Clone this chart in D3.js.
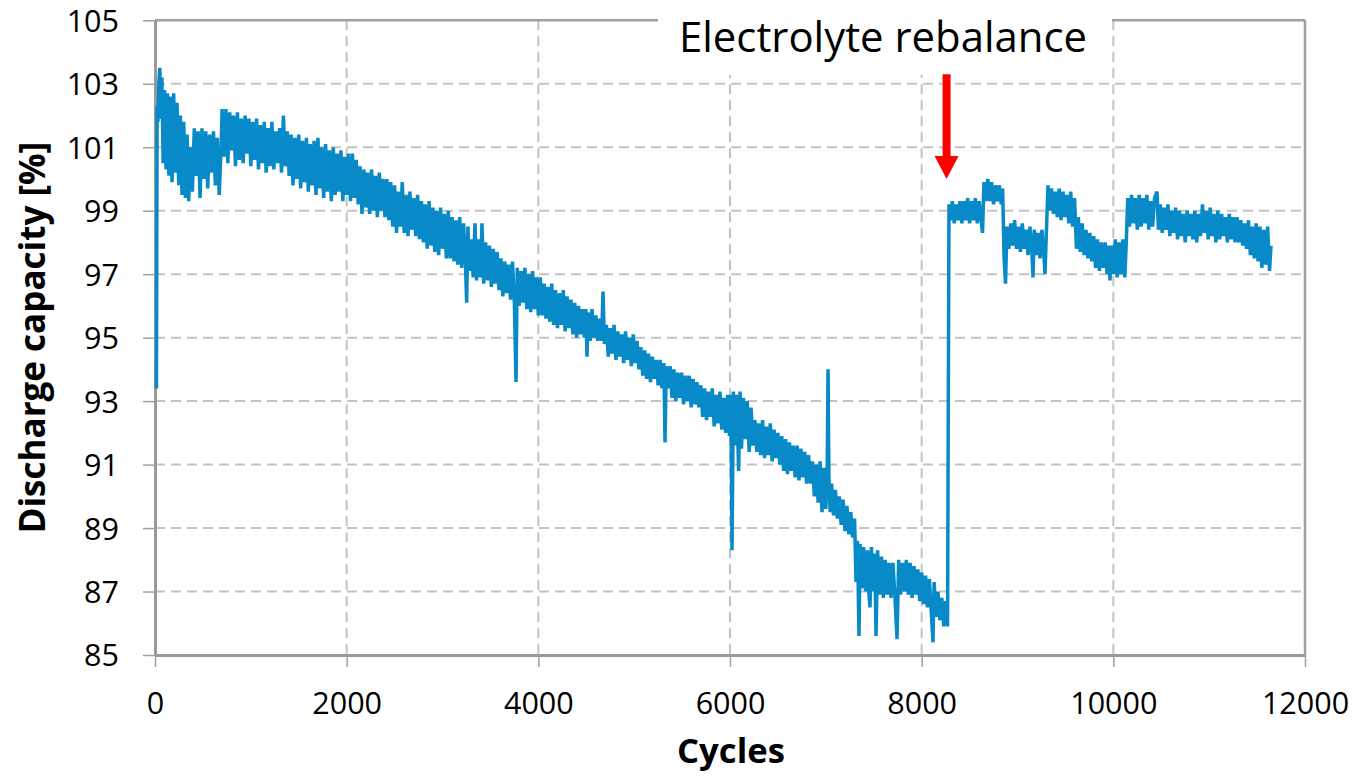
<!DOCTYPE html>
<html>
<head>
<meta charset="utf-8">
<script src="https://cdn.jsdelivr.net/npm/d3@7"></script>
<style>
  html, body { margin: 0; padding: 0; background: #ffffff; }
  svg { display: block; }
  text { font-family: "Open Sans", "Noto Sans", sans-serif; fill: #000; }
</style>
</head>
<body>
<svg id="chart" width="1359" height="776"></svg>
<script>
// ---------------- data ----------------
const xTicks = [0, 2000, 4000, 6000, 8000, 10000, 12000];
const yTicks = [85, 87, 89, 91, 93, 95, 97, 99, 101, 103, 105];
const xTitle = "Cycles";
const yTitle = "Discharge capacity [%]";
const annotationText = "Electrolyte rebalance";
const annotationCycle = 8260;          // where the arrow points
const annotationArrow = [103.3, 100.0]; // arrow from / to (capacity %)

// [cycle, discharge capacity %]
const capacity = [
[15,93.4],[22,102.3],[30,101.8],[40,103.0],[50,103.5],[62,101.9],[72,103.2],[85,100.5],[100,102.8],[115,100.3],
[130,102.7],[145,100.1],[160,102.6],[178,99.9],[195,102.7],[212,100.2],[230,102.4],[248,99.8],[265,102.0],[282,99.5],
[300,101.8],[318,99.4],[335,101.4],[352,99.3],[370,101.0],[390,99.6],[410,101.6],[430,100.1],[450,101.5],[470,99.4],
[490,101.6],[510,100.0],[530,101.5],[550,99.7],[570,101.4],[590,100.2],[610,101.5],[630,99.8],[650,101.3],[670,99.5],
[690,101.0],[700,102.2],[720,100.7],[740,102.2],[760,100.5],[780,102.1],[800,100.9],[820,102.0],[840,100.4],[860,102.1],
[880,100.6],[900,101.9],[920,100.5],[940,102.0],[960,100.8],[980,101.9],[1000,100.4],[1020,101.8],[1040,100.6],[1060,101.9],
[1080,100.3],[1100,101.7],[1120,100.5],[1140,101.8],[1160,100.2],[1180,101.6],[1200,100.4],[1220,101.8],[1240,100.3],[1260,101.5],
[1280,100.5],[1300,101.6],[1320,100.2],[1340,102.0],[1360,100.4],[1380,101.5],[1400,100.1],[1420,101.4],[1440,99.8],[1460,101.3],
[1480,100.0],[1500,101.4],[1520,99.7],[1540,101.2],[1560,99.9],[1580,101.3],[1600,99.6],[1620,101.1],[1640,99.8],[1660,101.2],
[1680,99.5],[1700,101.3],[1720,99.7],[1740,101.0],[1760,99.4],[1780,101.1],[1800,99.6],[1820,100.9],[1840,99.3],[1860,101.0],
[1880,99.5],[1900,100.8],[1920,99.6],[1940,100.9],[1960,99.3],[1980,100.7],[2000,99.5],[2020,100.8],[2040,99.3],[2060,100.8],
[2080,99.4],[2100,100.6],[2120,99.2],[2140,100.4],[2160,98.9],[2180,100.3],[2200,99.1],[2220,100.2],[2240,98.9],[2260,100.3],
[2280,99.0],[2300,100.1],[2320,98.8],[2340,100.2],[2360,99.0],[2380,100.0],[2400,98.8],[2420,100.0],[2440,98.7],[2460,99.9],
[2480,98.5],[2500,99.8],[2520,98.3],[2540,99.6],[2560,98.5],[2580,99.9],[2600,98.3],[2620,99.5],[2640,98.2],[2660,99.6],
[2680,98.4],[2700,99.4],[2720,98.2],[2740,99.5],[2760,98.1],[2780,99.3],[2800,98.0],[2820,99.2],[2840,97.8],[2860,99.3],
[2880,97.9],[2900,99.1],[2920,97.7],[2940,99.0],[2960,97.6],[2980,99.1],[3000,97.8],[3020,98.9],[3040,97.5],[3060,99.0],
[3080,97.5],[3100,98.8],[3120,97.4],[3140,98.7],[3160,97.3],[3180,98.8],[3200,97.2],[3220,98.6],[3240,97.3],[3252,96.1],
[3265,98.5],[3280,97.1],[3300,98.1],[3320,96.9],[3339,98.6],[3355,96.8],[3375,98.1],[3395,96.9],[3412,98.6],[3430,96.7],
[3450,98.0],[3470,96.8],[3490,97.9],[3510,96.6],[3530,97.8],[3550,96.7],[3570,97.7],[3590,96.5],[3610,97.5],[3630,96.3],
[3650,97.4],[3670,96.4],[3690,97.3],[3710,96.2],[3730,97.4],[3750,96.1],[3767,93.6],[3780,97.2],[3800,96.0],[3820,97.1],
[3840,96.1],[3860,97.2],[3880,95.9],[3900,97.0],[3920,95.8],[3940,97.1],[3960,95.9],[3980,96.9],[4000,95.7],[4020,96.9],
[4040,95.7],[4060,96.7],[4080,95.6],[4100,96.6],[4120,95.5],[4140,96.7],[4160,95.4],[4180,96.5],[4200,95.3],[4220,96.4],
[4240,95.4],[4260,96.5],[4280,95.2],[4300,96.3],[4320,95.3],[4340,96.2],[4360,95.1],[4380,96.1],[4400,95.0],[4420,96.0],
[4440,95.1],[4460,95.9],[4480,95.0],[4495,95.9],[4508,94.4],[4520,95.8],[4540,94.9],[4560,95.9],[4580,95.0],[4600,95.7],
[4620,94.9],[4640,95.6],[4660,94.9],[4675,96.45],[4690,94.8],[4710,95.4],[4730,94.4],[4750,95.3],[4770,94.5],[4790,95.4],
[4810,94.3],[4830,95.2],[4850,94.4],[4870,95.1],[4890,94.2],[4910,95.2],[4930,94.3],[4950,95.0],[4970,94.1],[4990,95.1],
[5010,94.2],[5030,94.9],[5050,94.0],[5070,94.7],[5090,93.8],[5110,94.6],[5130,93.7],[5150,94.5],[5170,93.6],[5190,94.4],
[5210,93.7],[5230,94.3],[5250,93.5],[5270,94.3],[5290,93.4],[5310,94.2],[5322,91.7],[5335,94.1],[5355,93.4],[5375,94.1],
[5395,93.1],[5415,94.0],[5435,93.0],[5455,93.9],[5475,93.1],[5495,93.9],[5515,92.9],[5535,93.8],[5555,93.0],[5575,93.8],
[5595,92.8],[5615,93.7],[5635,92.9],[5655,93.6],[5675,92.8],[5695,93.5],[5715,92.5],[5735,93.4],[5755,92.4],[5775,93.3],
[5795,92.5],[5815,93.4],[5835,92.2],[5855,93.2],[5875,92.3],[5895,93.3],[5915,92.1],[5935,93.1],[5955,92.0],[5975,93.2],
[5995,91.9],[6010,93.2],[6021,88.3],[6035,93.3],[6050,91.6],[6070,93.2],[6090,90.8],[6105,93.3],[6120,91.5],[6140,93.1],
[6160,91.8],[6180,93.0],[6200,91.4],[6220,92.8],[6240,91.6],[6260,92.4],[6280,91.4],[6300,92.3],[6320,91.3],[6340,92.4],
[6360,91.2],[6380,92.2],[6400,91.3],[6420,92.3],[6440,91.1],[6460,92.1],[6480,91.2],[6500,92.0],[6520,91.0],[6540,91.9],
[6560,90.8],[6580,91.8],[6600,90.7],[6620,91.7],[6640,90.8],[6660,91.6],[6680,90.6],[6700,91.6],[6720,90.5],[6740,91.5],
[6760,90.6],[6780,91.4],[6800,90.4],[6820,91.3],[6840,90.4],[6860,91.1],[6880,90.0],[6900,91.0],[6920,89.8],[6940,91.1],
[6960,89.5],[6980,90.9],[7000,89.6],[7015,91.0],[7023,94.0],[7032,90.6],[7045,89.5],[7060,90.4],[7080,89.4],[7100,90.2],
[7120,89.3],[7140,90.0],[7160,89.1],[7180,89.9],[7200,88.9],[7220,89.7],[7240,88.8],[7260,89.5],[7280,88.7],[7300,89.3],
[7315,87.3],[7330,88.6],[7346,85.6],[7357,88.5],[7375,87.1],[7395,88.4],[7415,87.0],[7435,88.3],[7450,86.9],[7461,86.5],
[7475,88.4],[7495,87.0],[7510,88.2],[7524,85.6],[7540,88.3],[7560,86.9],[7580,88.1],[7600,86.8],[7620,88.0],[7640,86.9],
[7660,87.9],[7680,86.8],[7700,87.9],[7720,86.9],[7743,85.5],[7760,88.0],[7780,86.9],[7800,87.9],[7820,87.0],[7840,88.0],
[7860,86.9],[7880,87.9],[7900,86.8],[7920,87.8],[7940,86.9],[7960,87.7],[7980,86.7],[8000,87.6],[8020,86.6],[8040,87.5],
[8060,86.5],[8080,87.4],[8100,86.4],[8118,85.4],[8130,87.3],[8150,86.2],[8170,87.0],[8190,86.1],[8210,86.8],[8230,85.9],
[8250,86.7],[8270,85.9],[8285,99.2],[8300,98.7],[8320,99.3],[8340,98.6],[8360,99.2],[8380,98.7],[8400,99.3],[8420,98.6],
[8440,99.3],[8460,98.7],[8480,99.4],[8500,98.6],[8520,99.3],[8540,98.7],[8560,99.4],[8580,98.6],[8600,99.3],[8620,98.7],
[8635,98.3],[8650,99.9],[8670,99.3],[8690,100.0],[8710,99.3],[8730,99.9],[8750,99.2],[8770,99.8],[8790,99.3],[8810,99.8],
[8830,99.2],[8845,99.7],[8860,97.5],[8875,96.7],[8890,98.5],[8910,97.8],[8930,98.6],[8950,97.9],[8970,98.7],[8990,97.8],
[9010,98.5],[9030,97.7],[9050,98.6],[9070,97.8],[9090,98.4],[9110,97.6],[9130,98.5],[9150,97.7],[9162,96.9],[9175,98.4],
[9195,97.6],[9215,98.3],[9235,97.5],[9255,98.4],[9275,97.6],[9287,97.0],[9300,98.2],[9318,99.8],[9335,99.0],[9355,99.7],
[9375,98.9],[9395,99.6],[9415,98.8],[9435,99.7],[9455,98.7],[9475,99.6],[9495,98.8],[9515,99.5],[9535,98.6],[9555,99.6],
[9575,98.5],[9595,99.4],[9615,97.8],[9635,98.8],[9655,97.7],[9675,98.6],[9695,97.6],[9715,98.4],[9735,97.5],[9755,98.3],
[9775,97.4],[9795,98.2],[9815,97.2],[9835,98.1],[9855,97.1],[9875,98.0],[9895,97.2],[9915,98.0],[9935,97.0],[9950,97.9],
[9965,96.8],[9980,97.9],[10000,97.0],[10020,98.1],[10040,96.9],[10060,98.0],[10080,97.0],[10100,98.1],[10120,96.9],[10135,98.0],
[10150,99.4],[10170,98.5],[10190,99.5],[10210,98.6],[10230,99.4],[10250,98.4],[10270,99.5],[10290,98.5],[10310,99.4],[10330,98.6],
[10350,99.5],[10370,98.4],[10390,99.3],[10410,98.5],[10430,99.4],[10456,99.6],[10470,98.4],[10490,99.2],[10510,98.3],[10530,99.1],
[10550,98.4],[10570,99.2],[10590,98.2],[10610,99.0],[10630,98.3],[10650,99.1],[10670,98.1],[10690,99.0],[10710,98.2],[10730,98.9],
[10750,98.0],[10770,99.0],[10790,98.2],[10810,98.9],[10830,98.1],[10850,99.0],[10870,98.0],[10890,98.9],[10910,98.2],[10930,99.2],
[10950,98.3],[10970,99.0],[10990,98.1],[11010,99.1],[11030,98.2],[11050,98.9],[11070,98.0],[11090,99.0],[11110,98.1],[11130,98.9],
[11150,98.2],[11170,98.8],[11190,98.0],[11210,98.9],[11230,98.1],[11250,98.8],[11270,98.0],[11290,98.8],[11310,98.0],[11330,98.7],
[11350,97.9],[11370,98.6],[11390,97.8],[11410,98.7],[11430,97.6],[11450,98.5],[11470,97.5],[11490,98.6],[11510,97.4],[11530,98.5],
[11550,97.2],[11570,98.4],[11590,97.3],[11610,98.5],[11630,97.1],[11645,97.9]
];

// ---------------- layout ----------------
const svg = d3.select("#chart");
const plot = { left: 155, right: 1305, top: 20.3, bottom: 655 };

const x = d3.scaleLinear().domain([0, 12000]).range([plot.left, plot.right]);
const y = d3.scaleLinear().domain([85, 105]).range([plot.bottom, plot.top]);

const gridColor = "#c3c3c3";
const axisColor = "#a0a0a0";

// gridlines
const grid = svg.append("g").attr("class", "grid");
grid.selectAll("line.h").data(yTicks.slice(1, -1)).join("line")
  .attr("x1", plot.left).attr("x2", plot.right)
  .attr("y1", d => y(d)).attr("y2", d => y(d))
  .attr("stroke", gridColor).attr("stroke-width", 2).attr("stroke-dasharray", "10,6");
grid.selectAll("line.v").data(xTicks.slice(1, -1)).join("line")
  .attr("y1", plot.top).attr("y2", plot.bottom)
  .attr("x1", d => x(d)).attr("x2", d => x(d))
  .attr("stroke", gridColor).attr("stroke-width", 2).attr("stroke-dasharray", "10,6");

// plot border (top / right)
svg.append("line").attr("x1", plot.left).attr("x2", plot.right).attr("y1", plot.top).attr("y2", plot.top)
  .attr("stroke", axisColor).attr("stroke-width", 2.5);
svg.append("line").attr("x1", plot.right).attr("x2", plot.right).attr("y1", plot.top).attr("y2", plot.bottom)
  .attr("stroke", axisColor).attr("stroke-width", 2.5);

// axes
const xAxis = svg.append("g").attr("transform", `translate(0,${plot.bottom})`)
  .call(d3.axisBottom(x).tickValues(xTicks).tickFormat(d3.format("d")).tickSize(12).tickSizeOuter(0));
const yAxis = svg.append("g").attr("transform", `translate(${plot.left},0)`)
  .call(d3.axisLeft(y).tickValues(yTicks).tickFormat(d3.format("d")).tickSize(12).tickSizeOuter(0));
[xAxis, yAxis].forEach(g => {
  g.select(".domain").attr("stroke", "#999").attr("stroke-width", 3);
  g.selectAll(".tick line").attr("stroke", axisColor).attr("stroke-width", 1.5);
  g.selectAll(".tick text").attr("font-family", '"Open Sans", sans-serif')
    .attr("font-size", 30.5).attr("fill", "#000");
});
xAxis.selectAll(".tick text").attr("y", 0).attr("dy", 0)
  .attr("transform", "translate(0,59)");
yAxis.selectAll(".tick text").attr("x", -36).attr("dy", "0.36em");

// data line (drawn above the axis so the first drop is visible)
const line = d3.line().x(d => x(d[0])).y(d => y(d[1]));
svg.append("path").datum(capacity)
  .attr("d", line)
  .attr("fill", "none")
  .attr("stroke", "#078ac7")
  .attr("stroke-width", 3.5)
  .attr("stroke-linejoin", "miter")
  .attr("stroke-miterlimit", 2);

// axis titles (fitted to the reference text widths)
function fit(sel, target, base) {
  const len = sel.node().getComputedTextLength();
  sel.attr("font-size", base * target / len);
}
const xt = svg.append("text").text(xTitle)
  .attr("x", 731).attr("y", 763)
  .attr("text-anchor", "middle").attr("font-weight", "bold").attr("font-size", 30);
fit(xt, 108, 30);
const yt = svg.append("text").text(yTitle)
  .attr("transform", `translate(45,${(plot.top + plot.bottom) / 2}) rotate(-90)`)
  .attr("text-anchor", "middle").attr("font-weight", "bold").attr("font-size", 30);
fit(yt, 392, 30);

// annotation
svg.append("rect").attr("x", 658).attr("y", 0).attr("width", 454).attr("height", 75).attr("fill", "#fff");
const ann = svg.append("text").text(annotationText)
  .attr("x", 883).attr("y", 52).attr("text-anchor", "middle").attr("font-size", 40);
fit(ann, 408, 40);

const ax = x(annotationCycle);
const yTop = y(annotationArrow[0]);
const yTip = y(annotationArrow[1]);
svg.append("rect").attr("x", ax - 4).attr("y", yTop).attr("width", 8).attr("height", (yTip - 22) - yTop + 1)
  .attr("fill", "#ff0000");
svg.append("path")
  .attr("d", `M${ax - 12},${yTip - 23} L${ax + 12},${yTip - 23} L${ax},${yTip} Z`)
  .attr("fill", "#ff0000");
</script>
</body>
</html>
